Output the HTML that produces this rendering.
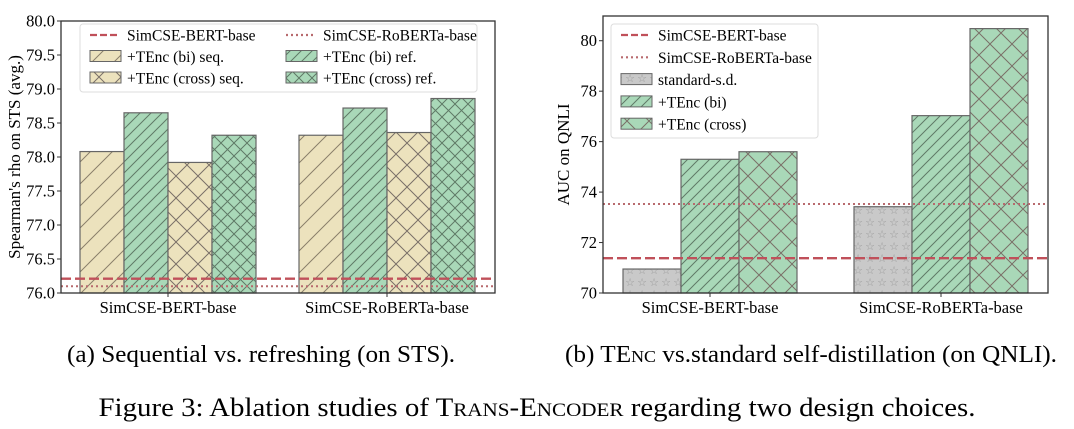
<!DOCTYPE html>
<html><head><meta charset="utf-8"><style>
html,body{margin:0;padding:0;background:#fff;}
svg{display:block;font-family:"Liberation Serif",serif;}
</style></head><body>
<svg id="fig" width="1074" height="429" viewBox="0 0 1074 429" xmlns="http://www.w3.org/2000/svg">
<defs>
<pattern id="hb" width="22" height="22" patternUnits="userSpaceOnUse"><path d="M0,22 L22,0 M-11,11 L11,-11 M11,33 L33,11" stroke="#8a806a" stroke-width="1"/></pattern>
<pattern id="hbd" width="11" height="11" patternUnits="userSpaceOnUse"><path d="M0,11 L11,0 M-5.5,5.5 L5.5,-5.5 M5.5,16.5 L16.5,5.5" stroke="#5f7a66" stroke-width="1"/></pattern>
<pattern id="hx" width="22" height="22" patternUnits="userSpaceOnUse"><path d="M0,22 L22,0 M0,0 L22,22" stroke="#7a7068" stroke-width="1"/></pattern>
<pattern id="hxd" width="13" height="13" patternUnits="userSpaceOnUse"><path d="M0,13 L13,0 M0,0 L13,13" stroke="#5f7a66" stroke-width="1"/></pattern>
<pattern id="hs" width="12" height="12" patternUnits="userSpaceOnUse"><text x="6" y="10" font-size="11" text-anchor="middle" fill="#999">☆</text></pattern>
</defs>
<g id="left"></g>
<g id="right"></g>
<text x="261" y="362" font-size="24" text-anchor="middle" textLength="388" lengthAdjust="spacingAndGlyphs">(a) Sequential vs. refreshing (on STS).</text>
<text x="811" y="362" font-size="24" text-anchor="middle" textLength="492" lengthAdjust="spacingAndGlyphs">(b) T<tspan>E</tspan><tspan font-size="17">NC</tspan> vs.standard self-distillation (on QNLI).</text>
<text x="537" y="416" font-size="26" text-anchor="middle" textLength="877" lengthAdjust="spacingAndGlyphs">Figure 3: Ablation studies of T<tspan font-size="19">RANS</tspan>-E<tspan font-size="19">NCODER</tspan> regarding two design choices.</text>
</svg>
<script>
// Chart A data
const catsA = ["SimCSE-BERT-base","SimCSE-RoBERTa-base"];
const biSeq = [78.08, 78.32];
const biRef = [78.65, 78.72];
const crossSeq = [77.92, 78.36];
const crossRef = [78.32, 78.86];
const baseA = [76.21, 76.10];
const ticksA = [76.0,76.5,77.0,77.5,78.0,78.5,79.0,79.5,80.0];
// Chart B data
const catsB = ["SimCSE-BERT-base","SimCSE-RoBERTa-base"];
const stdSD = [70.95, 73.42];
const tBi = [75.3, 77.03];
const tCross = [75.6, 80.48];
const baseB = [71.38, 73.53];
const ticksB = [70,72,74,76,78,80];

const NS="http://www.w3.org/2000/svg";
function mk(p,tag,at){const e=document.createElementNS(NS,tag);for(const k in at)e.setAttribute(k,at[k]);p.appendChild(e);return e;}

function chart(g,cfg){
  const {x0,x1,y0,y1,ymin,ymax,cats,series,bases,ticks,fmt,ylabel,centers,bw}=cfg;
  const Y=v=>y1-(v-ymin)/(ymax-ymin)*(y1-y0);
  series.forEach((s,si)=>{
    s.vals.forEach((v,ci)=>{
      const bx=centers[ci]-bw*series.length/2+si*bw;
      const fill=mk(g,'rect',{x:bx,y:Y(v),width:bw,height:y1-Y(v),fill:s.color,stroke:'none'});
      
      
      const h=mk(g,'rect',{x:bx,y:Y(v),width:bw,height:y1-Y(v),fill:'url(#'+s.pat+')',stroke:'#666',"stroke-width":1.2});
      
      
    });
  });
  bases.forEach((b,i)=>{
    const l=mk(g,'line',{x1:x0,x2:x1,y1:Y(b),y2:Y(b),stroke:i==0?'#c0505a':'#b86a6e',"stroke-width":i==0?2.4:2,"stroke-dasharray":i==0?'10,4':'2,3'});
    
    
  });
  const ax=mk(g,'rect',{x:x0,y:y0,width:x1-x0,height:y1-y0,fill:'none',stroke:'#333',"stroke-width":1.3});
  
  
  ticks.forEach(t=>{
    mk(g,'line',{x1:x0-4,x2:x0,y1:Y(t),y2:Y(t),stroke:'#333'});
    const tx=mk(g,'text',{x:x0-6,y:Y(t)+5.5,"font-size":16.5,"text-anchor":"end"});
    tx.textContent=fmt(t);
    
    
  });
  cats.forEach((c,i)=>{
    mk(g,'line',{x1:centers[i],x2:centers[i],y1:y1,y2:y1+4,stroke:'#333'});
    const tx=mk(g,'text',{x:centers[i],y:y1+20,"font-size":16.5,"text-anchor":"middle"});
    tx.textContent=c;
    
    
  });
  const yl=mk(g,'text',{x:0,y:0,"font-size":17,"text-anchor":"middle",transform:`translate(${cfg.ylx},${(y0+y1)/2}) rotate(-90)`});
  yl.textContent=ylabel;
  
  
}
const TAN='#ece2bd', GRN='#a9d8b8', GRY='#c9c9c9';
chart(document.getElementById('left'),{x0:61,x1:495,y0:21,y1:293,ymin:76,ymax:80,cats:catsA,centers:[168,387],bw:44,
  series:[{key:'bi-seq',vals:biSeq,color:TAN,pat:'hb'},{key:'bi-ref',vals:biRef,color:GRN,pat:'hbd'},{key:'cross-seq',vals:crossSeq,color:TAN,pat:'hx'},{key:'cross-ref',vals:crossRef,color:GRN,pat:'hxd'}],
  bases:baseA,ticks:ticksA,fmt:t=>t.toFixed(1),ylabel:"Spearman's rho on STS (avg.)",ylx:20});
chart(document.getElementById('right'),{x0:603,x1:1048,y0:16,y1:293,ymin:70,ymax:80.98,cats:catsB,centers:[710,941],bw:58,
  series:[{key:'standard-sd',vals:stdSD,color:GRY,pat:'hs'},{key:'tenc-bi',vals:tBi,color:GRN,pat:'hbd'},{key:'tenc-cross',vals:tCross,color:GRN,pat:'hx'}],
  bases:baseB,ticks:ticksB,fmt:t=>String(t),ylabel:"AUC on QNLI",ylx:569});

// legends
function legend(g,x,y,w,h,items,cols,colw,rowh){
  const bg=mk(g,'rect',{x:x,y:y,width:w,height:h,rx:3,fill:'rgba(255,255,255,0.85)',stroke:'#ddd'});
  
  
  items.forEach((it,i)=>{
    const c=i%cols, r=Math.floor(i/cols);
    const lx=x+4+c*colw, ly=y+11+r*rowh;
    if(it.line){
      mk(g,'line',{x1:lx+6,x2:lx+34,y1:ly,y2:ly,stroke:it.line,"stroke-width":2.2,"stroke-dasharray":it.dash});
    } else {
      mk(g,'rect',{x:lx+6,y:ly-6,width:31,height:11,fill:it.color});
      mk(g,'rect',{x:lx+6,y:ly-6,width:31,height:11,fill:'url(#'+it.pat+')',stroke:'#666'});
    }
    const t=mk(g,'text',{x:lx+43,y:ly+5.5,"font-size":15.5});
    t.textContent=it.label;
    
    
  });
}
legend(document.getElementById('left'),80,24,397,68,[
  {label:'SimCSE-BERT-base',line:'#c0505a',dash:'7,3'},{label:'SimCSE-RoBERTa-base',line:'#b86a6e',dash:'2,3'},
  {label:'+TEnc (bi) seq.',color:TAN,pat:'hb'},{label:'+TEnc (bi) ref.',color:GRN,pat:'hbd'},
  {label:'+TEnc (cross) seq.',color:TAN,pat:'hx'},{label:'+TEnc (cross) ref.',color:GRN,pat:'hxd'}],2,196,21.5);
legend(document.getElementById('right'),611,24,207,114,[
  {label:'SimCSE-BERT-base',line:'#c0505a',dash:'7,3'},{label:'SimCSE-RoBERTa-base',line:'#b86a6e',dash:'2,3'},
  {label:'standard-s.d.',color:GRY,pat:'hs'},{label:'+TEnc (bi)',color:GRN,pat:'hbd'},{label:'+TEnc (cross)',color:GRN,pat:'hx'}],1,0,22.3);
</script>
</body></html>
